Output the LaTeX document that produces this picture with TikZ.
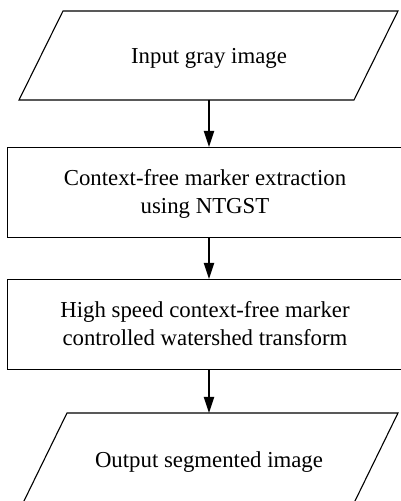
\documentclass[tikz,border=0pt]{standalone}
\usepackage{fontspec}
\setmainfont{Liberation Serif}
\usetikzlibrary{arrows.meta,calc}

\tikzset{
  label text/.style={font=\fontsize{22.8}{28}\selectfont, align=center, inner sep=0pt, anchor=base},
  frame/.style={draw=black, line width=1.1pt},
  stepbox/.style={frame, minimum width=396pt, minimum height=90pt, anchor=north west, inner sep=0pt},
  flow/.style={line width=2pt, -{Triangle[length=16pt,width=10pt]}},
}

\begin{document}
\begin{tikzpicture}[x=1pt,y=1pt]
  \useasboundingbox (0,0) rectangle (401,501);
  \begin{scope}
    \clip (0,0) rectangle (401,501);

    % input parallelogram
    \draw[frame] (63,490) -- (398,490) -- (354,401) -- (19,401) -- cycle;
    \coordinate (inbot) at (209,401);
    \node[label text] (in) at (209,437.5) {Input gray image};

    % marker extraction (base anchor sits on the last line)
    \node[stepbox] (ext) at (7,354) {};
    \node[label text] (extt) at (205,287) {Context-free marker extraction\\using NTGST};

    % watershed transform
    \node[stepbox] (ws) at (7,222) {};
    \node[label text] (wst) at (205,155) {High speed context-free marker\\controlled watershed transform};

    % output parallelogram
    \draw[frame] (67,88) -- (398,88) -- (354,-2) -- (23,-2) -- cycle;
    \coordinate (outtop) at (209,88);
    \node[label text] (out) at (209,33) {Output segmented image};

    % connectors
    \draw[flow] (inbot) -- (inbot |- ext.north);
    \draw[flow] (inbot |- ext.south) -- (inbot |- ws.north);
    \draw[flow] (inbot |- ws.south) -- (outtop);
  \end{scope}
\end{tikzpicture}
\end{document}
